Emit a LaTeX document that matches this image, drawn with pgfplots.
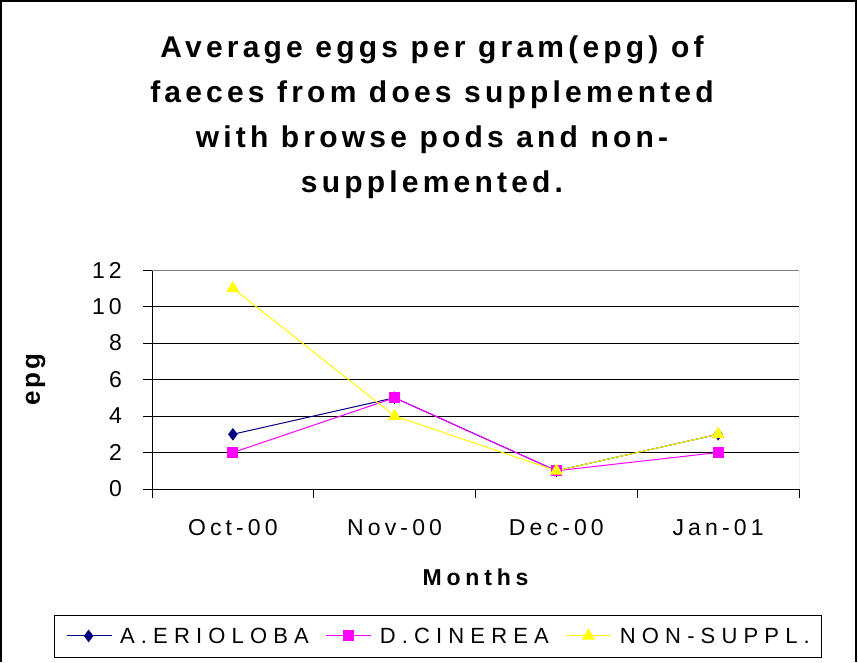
\documentclass[border=0pt]{standalone}
\usepackage{pgfplots}
\pgfplotsset{compat=1.18}
\usepackage{fontspec}
\setmainfont{Liberation Sans}
\newfontfamily\titlefont{Liberation Sans}[LetterSpace=14]
\newfontfamily\tickfont{Liberation Sans}[LetterSpace=18]
\newfontfamily\monfont{Liberation Sans}[LetterSpace=21]
\newfontfamily\legfont{Liberation Sans}[LetterSpace=28]
\newfontfamily\labfont{Liberation Sans}[LetterSpace=10]
\definecolor{navyc}{RGB}{0,0,128}
\definecolor{magc}{RGB}{255,0,255}
\definecolor{yelc}{RGB}{255,255,0}
\begin{document}
\begin{tikzpicture}
\path[use as bounding box] (0pt,0pt) rectangle (858pt,662pt);
\draw[line width=1.2pt] (1pt,0pt) -- (1pt,661pt) -- (856pt,661pt) -- (856pt,0pt);
\node[align=center, font=\titlefont\bfseries\fontsize{30}{45}\selectfont] at (432pt,545pt) {Average eggs per gram(epg) of\\faeces from does supplemented\\with browse pods and non-\\supplemented.};
\begin{axis}[
  at={(152pt,173pt)}, anchor=south west, scale only axis,
  width=647pt, height=219pt,
  xmin=0.5, xmax=4.5, ymin=0, ymax=12,
  ytick={0,2,...,12},
  xtick={0.5,1.5,2.5,3.5,4.5}, xticklabels={},
  extra x ticks={1,2,3,4},
  extra x tick labels={Oct-00,Nov-00,Dec-00,Jan-01},
  extra x tick style={major tick length=0pt, grid=none},
  axis x line*=bottom, axis y line*=left,
  axis line style={black, line width=0.8pt},
  tick align=outside, major tick length=9pt,
  tick style={black, line width=0.8pt},
  ymajorgrids, grid style={black, line width=0.8pt},
  /pgf/number format/assume math mode=true,
  ticklabel style={font=\tickfont\fontsize{23}{23}\selectfont},
  yticklabel style={anchor=east, inner sep=0pt, xshift=-21pt},
  xticklabel style={anchor=base, inner sep=0pt, yshift=-46pt},
  xlabel={Months}, ylabel={epg},
  xlabel style={font=\monfont\bfseries\fontsize{23}{23}\selectfont, at={(axis description cs:0.5,-0.402)}, anchor=center},
  ylabel style={font=\labfont\bfseries\fontsize{26}{26}\selectfont, at={(axis description cs:-0.18,0.5)}, anchor=center, rotate=0},
  legend columns=3,
  legend style={at={(0.442,-0.671)}, anchor=center, draw=black, line width=0.8pt,
    font=\legfont\fontsize{22}{22}\selectfont, inner xsep=12pt, inner ysep=13pt,
    nodes={inner sep=0pt, text height=16pt, text depth=0pt},
    /tikz/every odd column/.append style={column sep=8pt},
    /tikz/every even column/.append style={column sep=17pt}},
  legend image code/.code={\draw[mark repeat=2,mark phase=2,line width=1pt,#1] plot coordinates {(0pt,0pt) (22pt,0pt) (45pt,0pt)};},
]
\draw[gray, line width=1pt] (rel axis cs:1,0) -- (rel axis cs:1,1) -- (rel axis cs:0,1);
\addplot[navyc, line width=1pt, mark=diamond*, mark size=5.5pt, mark options={fill=navyc, draw=navyc}] coordinates {(1,3) (2,5) (3,1) (4,3)};
\addplot[magc, line width=1pt, mark=square*, mark size=5pt, mark options={fill=magc, draw=magc}] coordinates {(1,2) (2,5) (3,1) (4,2)};
\addplot[yelc, line width=1pt, mark=triangle*, mark size=6.5pt, mark options={fill=yelc, draw=yelc}] coordinates {(1,11) (2,4) (3,1) (4,3)};
\legend{A.ERIOLOBA, D.CINEREA, NON-SUPPL.}
\end{axis}
\end{tikzpicture}
\end{document}
